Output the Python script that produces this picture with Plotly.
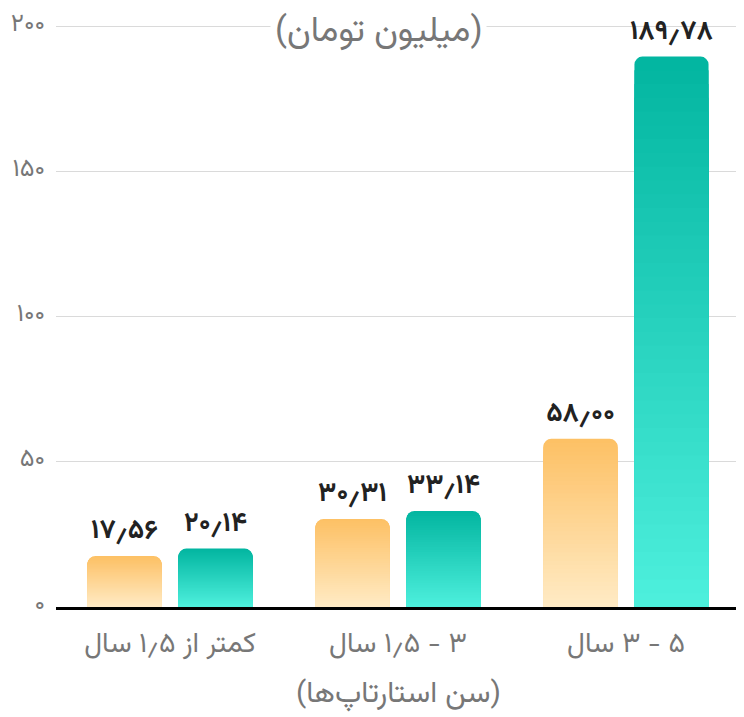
import plotly.graph_objects as go

# data
categories = ["کمتر از ۱٫۵ سال", "۳ - ۱٫۵ سال", "۵ - ۳ سال"]
series_a = [17.56, 30.31, 58.00]
series_b = [20.14, 33.14, 189.78]
y_ticks = [0, 50, 100, 150, 200]

FA_DIGITS = str.maketrans("0123456789.", "۰۱۲۳۴۵۶۷۸۹٫")
RLE, PDF = "\u202b", "\u202c"


def fa(v, fmt="{:.2f}"):
    return fmt.format(v).translate(FA_DIGITS)


def rtl(s):
    return RLE + s + PDF


def mix(c1, c2, t):
    return "rgb({},{},{})".format(*[round(a + (b - a) * t) for a, b in zip(c1, c2)])


ORANGE = ((253, 192, 100), (255, 235, 197))
TEAL = ((2, 181, 160), (78, 240, 221))
N = 40          # gradient layers per bar
WIDTH = 0.325
FONT = "Vazirmatn, DejaVu Sans"

x_labels = [rtl(c) for c in categories]

fig = go.Figure()


def add_gradient_bars(values, colors, offset):
    top, bottom = colors
    for k in range(N):
        t = (k + 0.5) / N
        frac = (N - k) / N
        fig.add_trace(go.Bar(
            x=x_labels,
            y=[v * frac for v in values],
            width=WIDTH,
            offset=offset,
            marker=dict(color=mix(top, bottom, t), line_width=0, cornerradius=8),
            text=[fa(v) for v in values] if k == 0 else None,
            textposition="outside" if k == 0 else "none",
            constraintext="none",
            textfont=dict(family=FONT, size=27, color="#222222", weight="bold"),
            cliponaxis=False,
            hoverinfo="skip",
            showlegend=False,
        ))


add_gradient_bars(series_a, ORANGE, -0.362)
add_gradient_bars(series_b, TEAL, 0.037)

# page body has an 8px margin, so the figure is a bit smaller than the window
fig.update_layout(
    width=736, height=709,
    margin=dict(l=48, r=4, t=16, b=110, autoexpand=False),
    barmode="overlay",
    plot_bgcolor="white",
    paper_bgcolor="white",
    font=dict(family=FONT, color="#777777"),
)
fig.update_xaxes(
    showline=True, linecolor="black", linewidth=3,
    showgrid=False, automargin=False,
    tickfont=dict(size=28, color="#777777"),
    ticklabelstandoff=8,
)
fig.update_yaxes(
    range=[0, 201], automargin=False,
    tickvals=y_ticks,
    ticktext=[fa(v, "{:d}") for v in y_ticks],
    tickfont=dict(size=25, color="#777777"),
    showgrid=True, gridcolor="#DADADA", gridwidth=1,
    zeroline=False,
    ticklabelstandoff=10,
    ticklabelshift=-5,
    ticklabeloverflow="allow",
)

fig.add_annotation(
    text=rtl("(میلیون تومان)"), xref="paper", yref="paper",
    x=0.471, y=0.985, yanchor="middle", showarrow=False,
    font=dict(size=35, color="#777777"), bgcolor="white", borderpad=4,
)
fig.add_annotation(
    text=rtl("(سن استارتاپ‌ها)"), xref="paper", yref="paper",
    x=0.5, y=-0.15, yanchor="middle", showarrow=False,
    font=dict(size=30, color="#777777"),
)

fig.write_html("out.html")
